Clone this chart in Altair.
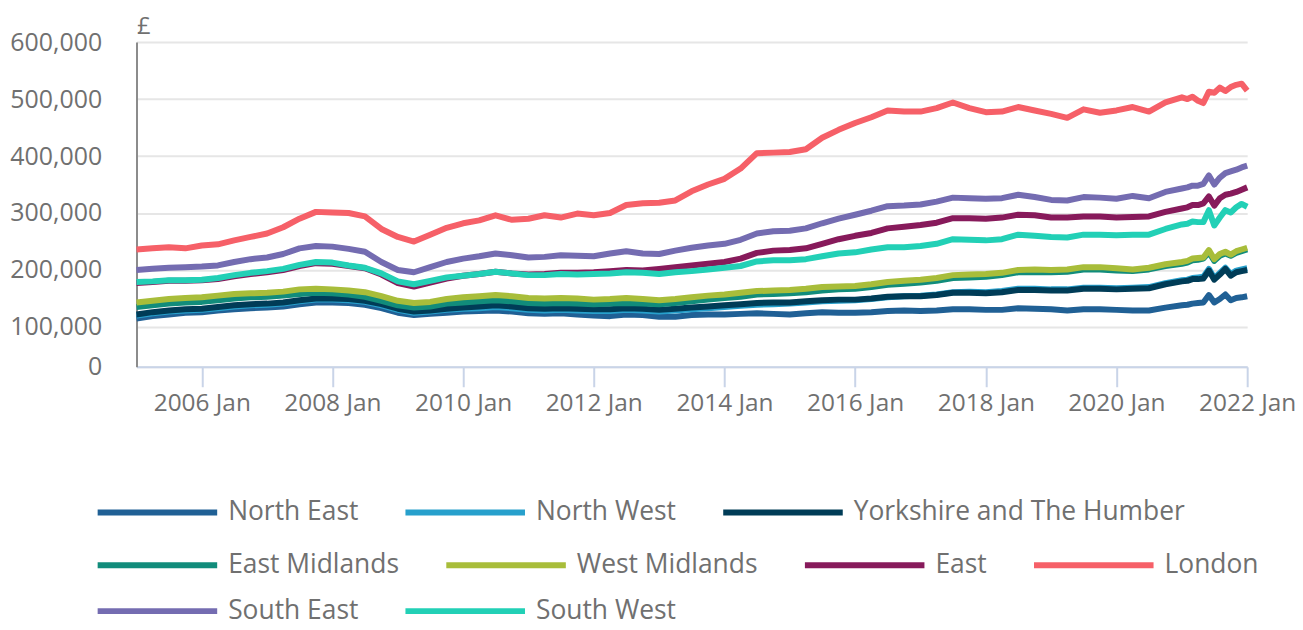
import altair as alt
import pandas as pd

# Dates: quarterly 2005-2020, then monthly through 2022 Jan
dates = [f"{y}-{m:02d}-01T00:00:00" for y in range(2005, 2021) for m in (1, 4, 7, 10)] + \
        [f"2021-{m:02d}-01T00:00:00" for m in range(1, 13)] + ["2022-01-01T00:00:00"]

regions = ["North East", "North West", "Yorkshire and The Humber", "East Midlands",
           "West Midlands", "East", "London", "South East", "South West"]
colors = ["#206095", "#27a0cc", "#003c57", "#118c7b", "#a8bd3a",
          "#871a5b", "#f66068", "#746cb1", "#22d0b6"]

# values in £ thousands
north_east = [115, 119, 122, 125, 126, 129, 131, 133, 134, 136, 140, 143, 143, 142, 139, 133,
              125, 121, 123, 125, 127, 128, 129, 127, 124, 123, 124, 122, 120, 119, 122, 121,
              118, 118, 121, 122, 122, 123, 124, 123, 122, 124, 126, 125, 125, 126, 128, 129,
              128, 129, 131, 131, 130, 130, 133, 132, 131, 129, 131, 131, 130, 129, 129, 134,
              138, 139, 141, 142, 143, 156, 143, 149, 157, 147, 151, 152, 154]
north_west = [120, 124, 127, 129, 130, 133, 136, 138, 139, 141, 145, 148, 148, 147, 144, 138,
              130, 125, 127, 130, 132, 133, 135, 133, 130, 129, 130, 129, 128, 128, 130, 129,
              127, 129, 131, 133, 135, 137, 139, 140, 141, 143, 145, 146, 147, 149, 152, 154,
              155, 157, 161, 162, 161, 163, 167, 167, 166, 166, 169, 169, 168, 169, 170, 177,
              182, 183, 186, 187, 188, 202, 186, 195, 204, 193, 199, 201, 203]
yorkshire = [122, 126, 129, 131, 132, 135, 138, 140, 141, 143, 147, 150, 150, 149, 146, 140,
             132, 127, 129, 132, 134, 136, 138, 136, 133, 132, 133, 132, 131, 131, 133, 132,
             130, 132, 134, 136, 138, 140, 142, 143, 143, 145, 147, 148, 148, 150, 153, 154,
             154, 156, 160, 160, 159, 161, 165, 165, 164, 164, 167, 167, 166, 167, 168, 175,
             180, 181, 184, 184, 185, 199, 183, 192, 202, 190, 196, 198, 200]
east_midlands = [135, 138, 141, 143, 144, 147, 150, 152, 153, 155, 158, 160, 159, 157, 153, 146,
                 138, 134, 136, 141, 143, 145, 147, 145, 142, 141, 142, 141, 140, 141, 142, 141,
                 140, 142, 145, 148, 151, 153, 157, 158, 159, 161, 164, 166, 167, 170, 174, 176,
                 178, 181, 186, 187, 188, 191, 196, 196, 196, 197, 201, 201, 199, 198, 201, 207,
                 211, 213, 217, 218, 220, 231, 216, 225, 229, 225, 230, 233, 236]
west_midlands = [143, 146, 149, 151, 152, 155, 158, 159, 160, 162, 166, 167, 166, 164, 161, 154,
                 146, 142, 144, 149, 152, 154, 156, 154, 151, 150, 151, 150, 148, 149, 151, 149,
                 147, 149, 152, 155, 157, 160, 163, 164, 165, 167, 170, 171, 172, 175, 179, 181,
                 183, 186, 191, 192, 193, 195, 200, 201, 200, 201, 205, 205, 203, 201, 204, 210,
                 214, 216, 220, 221, 222, 235, 219, 228, 232, 227, 233, 236, 239]
east = [177, 179, 181, 181, 182, 184, 189, 193, 196, 200, 207, 212, 211, 207, 203, 192,
        177, 171, 178, 185, 190, 193, 197, 194, 192, 193, 195, 195, 196, 198, 200, 199,
        202, 205, 208, 211, 214, 220, 230, 234, 235, 238, 246, 254, 260, 265, 273, 276,
        279, 283, 291, 291, 290, 292, 297, 296, 292, 292, 294, 294, 292, 293, 294, 302,
        308, 310, 314, 314, 317, 329, 313, 326, 332, 334, 337, 341, 345]
london = [236, 238, 240, 238, 243, 245, 252, 258, 264, 275, 290, 302, 301, 300, 294, 272,
          258, 250, 262, 274, 282, 287, 296, 288, 290, 296, 292, 299, 296, 300, 314, 317,
          318, 322, 338, 350, 360, 378, 405, 406, 407, 412, 432, 446, 458, 468, 480, 478,
          478, 484, 494, 484, 477, 478, 486, 480, 474, 467, 482, 476, 480, 486, 478, 494,
          503, 500, 504, 497, 493, 513, 511, 520, 514, 521, 525, 527, 515]
south_east = [200, 202, 204, 205, 206, 208, 214, 219, 222, 228, 238, 242, 241, 237, 232, 214,
              200, 196, 205, 214, 220, 224, 229, 226, 222, 223, 226, 225, 224, 229, 233, 229,
              228, 234, 239, 243, 246, 253, 264, 268, 269, 273, 282, 290, 297, 304, 312, 313,
              315, 320, 327, 326, 325, 326, 332, 328, 323, 322, 328, 327, 325, 330, 326, 337,
              343, 345, 348, 348, 351, 366, 350, 362, 370, 373, 376, 380, 383]
south_west = [179, 180, 182, 182, 183, 186, 191, 195, 198, 202, 209, 214, 213, 208, 204, 194,
              180, 175, 181, 187, 190, 193, 197, 194, 191, 191, 193, 192, 193, 194, 196, 195,
              193, 196, 198, 201, 204, 207, 215, 217, 217, 219, 224, 229, 231, 236, 240, 240,
              242, 246, 254, 253, 252, 254, 262, 260, 258, 257, 262, 262, 261, 262, 262, 272,
              280, 281, 285, 284, 284, 305, 278, 292, 305, 301, 310, 316, 311]

series = [north_east, north_west, yorkshire, east_midlands, west_midlands,
          east, london, south_east, south_west]

x_ticks_years = [2006, 2008, 2010, 2012, 2014, 2016, 2018, 2020, 2022]
y_ticks = [0, 100000, 200000, 300000, 400000, 500000, 600000]

rows = []
for name, vals in zip(regions, series):
    for d, v in zip(dates, vals):
        rows.append({"date": d, "region": name, "price": v * 1000})
df = pd.DataFrame(rows)

groups = [regions[0:3], regions[3:7], regions[7:9]]
group_colors = [colors[0:3], colors[3:7], colors[7:9]]
legend_y = [409, 462, 508]

TEXT = "#707070"
FONT = "Open Sans"

x_enc = alt.X(
    "date:T",
    scale=alt.Scale(domain=[alt.DateTime(year=2005, month=1, date=1),
                            alt.DateTime(year=2022, month=1, date=1)], nice=False),
    axis=alt.Axis(
        values=[alt.DateTime(year=y, month=1, date=1) for y in x_ticks_years],
        format="%Y %b", title=None, grid=False,
        labelFontSize=24.5, labelColor=TEXT, labelFont=FONT, labelPadding=5,
        tickSize=20, tickWidth=2, tickColor="#c9d4e8",
        domainColor="#c9d4e8", domainWidth=2, labelFlush=False,
    ),
)
y_enc = alt.Y(
    "price:Q",
    scale=alt.Scale(domain=[0, 100000, 600000], range=[326, 286, 0], nice=False, zero=False),
    axis=alt.Axis(
        values=y_ticks, labelExpr="format(datum.value, ',')",
        title="£", titleAngle=0, titleX=0, titleY=-9,
        titleAlign="left", titleBaseline="alphabetic", titleFontSize=24,
        titleFontWeight="normal", titleColor=TEXT, titleFont=FONT,
        labelFontSize=25, labelColor=TEXT, labelFont=FONT, labelPadding=35,
        ticks=False, domainColor="#8c8c8c", domainWidth=2,
        gridColor="#e6e6e6", gridWidth=2,
    ),
)

layers = []
for g, c, ly in zip(groups, group_colors, legend_y):
    layers.append(
        alt.Chart(df[df["region"].isin(g)])
        .mark_line(strokeWidth=6, strokeJoin="round")
        .encode(
            x=x_enc,
            y=y_enc,
            color=alt.Color(
                "region:N",
                scale=alt.Scale(domain=g, range=c),
                legend=alt.Legend(
                    orient="none", direction="horizontal", legendX=-42, legendY=ly,
                    title=None, symbolType="stroke", symbolSize=14400,
                    symbolStrokeWidth=6, labelOffset=8, columnPadding=35,
                    labelFontSize=26.5, labelColor=TEXT, labelFont=FONT, padding=0,
                    labelLimit=400,
                ),
            ),
        )
    )

chart = (
    alt.layer(*layers)
    .resolve_scale(color="independent")
    .properties(width=1115, height=326,
                padding={"left": 129, "top": 33, "right": 48, "bottom": 263},
                autosize=alt.AutoSizeParams(type="none"))
    .configure_view(stroke=None)
)

chart.save("out.html", embed_options={"renderer": "svg", "actions": False})
